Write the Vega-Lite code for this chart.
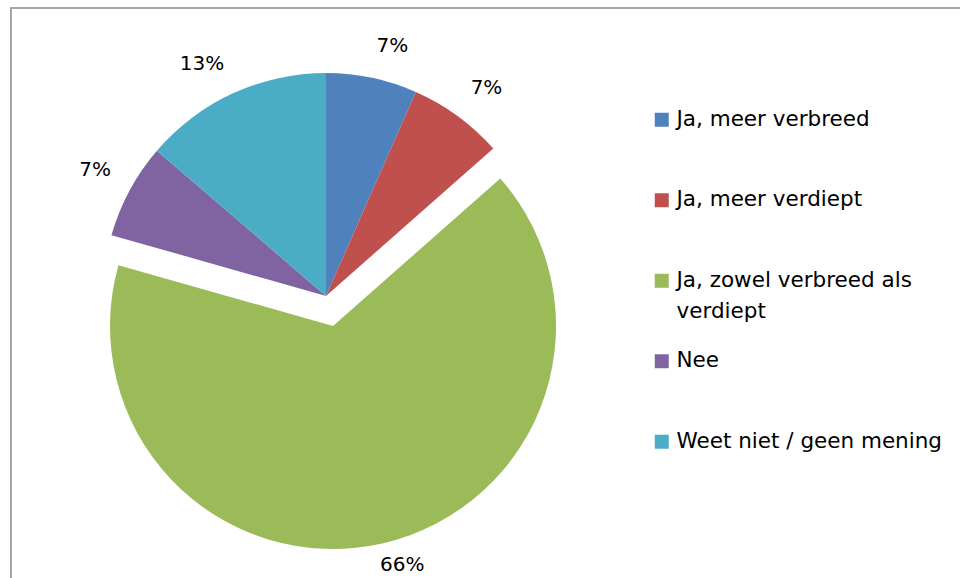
{
  "$schema": "https://vega.github.io/schema/vega-lite/v6.json",
  "width": 960,
  "height": 600,
  "autosize": "none",
  "padding": {"left": 11, "top": 8, "right": 0, "bottom": 0},
  "background": "white",
  "view": {"stroke": "#A6A6A6", "strokeWidth": 2, "fill": "white"},
  "config": {
    "view": {"stroke": "#A6A6A6", "strokeWidth": 2},
    "style": {"cell": {"stroke": "#A6A6A6", "strokeWidth": 2}},
    "font": "DejaVu Sans"
  },
  "data": {
    "values": [
      {"cat": "Ja, meer verbreed", "value": 6.6, "label": "7%", "order": 1},
      {"cat": "Ja, meer verdiept", "value": 6.9, "label": "7%", "order": 2},
      {"cat": "Ja, zowel verbreed als verdiept", "value": 65.9, "label": "66%", "order": 3},
      {"cat": "Nee", "value": 6.9, "label": "7%", "order": 4},
      {"cat": "Weet niet / geen mening", "value": 13.7, "label": "13%", "order": 5}
    ]
  },
  "encoding": {
    "theta": {"field": "value", "type": "quantitative", "stack": true},
    "order": {"field": "order", "type": "quantitative"}
  },
  "layer": [
    {
      "mark": {"type": "arc", "outerRadius": 223, "x": 315, "y": 288},
      "encoding": {
        "color": {
          "field": "cat", "type": "nominal",
          "sort": ["Ja, meer verbreed", "Ja, meer verdiept", "Ja, zowel verbreed als verdiept", "Nee", "Weet niet / geen mening"],
          "scale": {
            "domain": ["Ja, meer verbreed", "Ja, meer verdiept", "Ja, zowel verbreed als verdiept", "Nee", "Weet niet / geen mening"],
            "range": ["#4F81BD", "#C0504D", "#9BBB59", "#8064A2", "#4BACC6"]
          },
          "legend": {
            "title": null,
            "orient": "none",
            "legendX": 640,
            "legendY": 101,
            "symbolType": "square",
            "symbolSize": 196,
            "symbolStrokeWidth": 0,
            "symbolOpacity": 1,
            "labelFontSize": 21.5,
            "labelFont": "DejaVu Sans",
            "labelColor": "black",
            "labelOffset": 4,
            "labelLimit": 400,
            "rowPadding": 26.5,
            "labelExpr": "datum.label == 'Ja, zowel verbreed als verdiept' ? ['Ja, zowel verbreed als', 'verdiept'] : [datum.label, ' ']",
            "encode": {"labels": {"update": {"lineHeight": {"value": 31}}}}
          }
        },
        "opacity": {"condition": {"test": "datum.order == 3", "value": 0}, "value": 1}
      }
    },
    {
      "mark": {"type": "arc", "outerRadius": 223, "x": 315, "y": 288, "xOffset": 7, "yOffset": 30},
      "encoding": {
        "color": {"field": "cat", "type": "nominal"},
        "opacity": {"condition": {"test": "datum.order == 3", "value": 1}, "value": 0}
      }
    },
    {
      "mark": {"type": "text", "radius": 245, "x": 315, "y": 288, "fontSize": 20, "font": "DejaVu Sans", "color": "black", "align": "left", "baseline": "bottom"},
      "encoding": {
        "detail": {"field": "cat", "type": "nominal"},
        "text": {"field": "label", "type": "nominal"},
        "opacity": {"condition": {"test": "datum.order <= 2", "value": 1}, "value": 0}
      }
    },
    {
      "mark": {"type": "text", "radius": 244, "x": 315, "y": 288, "fontSize": 20, "font": "DejaVu Sans", "color": "black", "align": "right", "baseline": "bottom"},
      "encoding": {
        "detail": {"field": "cat", "type": "nominal"},
        "text": {"field": "label", "type": "nominal"},
        "opacity": {"condition": {"test": "datum.order >= 4", "value": 1}, "value": 0}
      }
    },
    {
      "mark": {"type": "text", "radius": 235, "x": 315, "y": 288, "xOffset": 2, "yOffset": 30, "fontSize": 20, "font": "DejaVu Sans", "color": "black", "align": "left", "baseline": "top"},
      "encoding": {
        "detail": {"field": "cat", "type": "nominal"},
        "text": {"field": "label", "type": "nominal"},
        "opacity": {"condition": {"test": "datum.order == 3", "value": 1}, "value": 0}
      }
    }
  ]
}
